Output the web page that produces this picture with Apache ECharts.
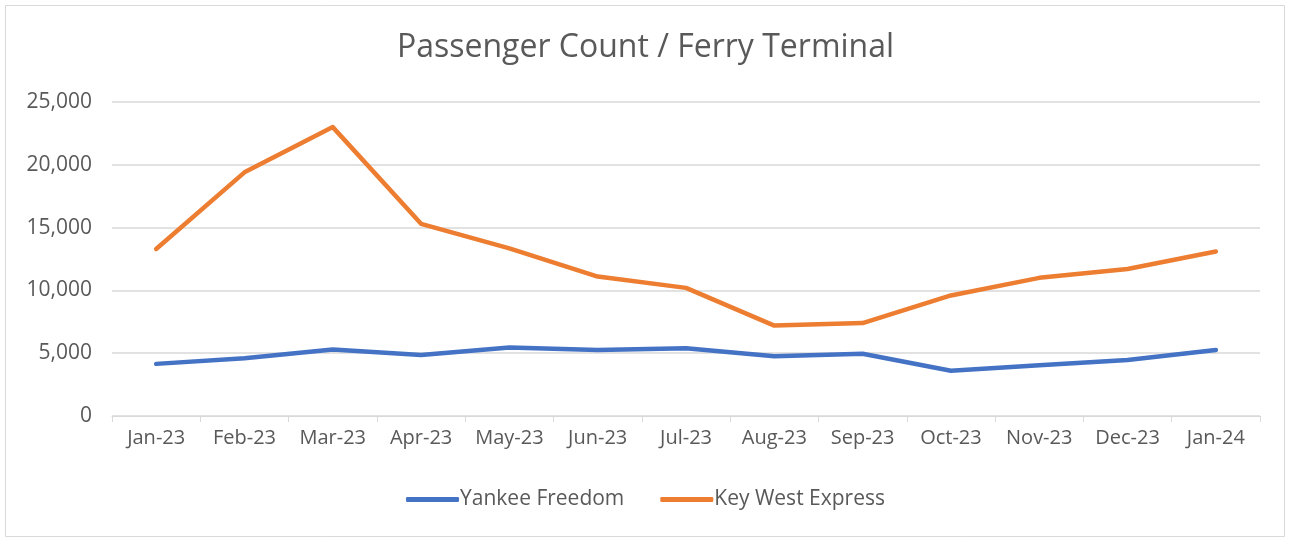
<!DOCTYPE html>
<html><head><meta charset="utf-8">
<script src="https://cdn.jsdelivr.net/npm/echarts@6/dist/echarts.min.js"></script>
<style>html,body{margin:0;padding:0;background:#fff}#c{width:1291px;height:540px}</style>
</head><body><div id="c"></div>
<script>
var categories = ['Jan-23','Feb-23','Mar-23','Apr-23','May-23','Jun-23','Jul-23','Aug-23','Sep-23','Oct-23','Nov-23','Dec-23','Jan-24'];
var yankeeFreedom = [4150, 4600, 5300, 4850, 5450, 5250, 5400, 4750, 4950, 3600, 4050, 4450, 5250];
var keyWestExpress = [13300, 19400, 23000, 15300, 13350, 11100, 10200, 7200, 7400, 9600, 11000, 11700, 13100];
var seriesNames = ['Yankee Freedom', 'Key West Express'];
var chart = echarts.init(document.getElementById('c'), null, {renderer:'canvas'});
var font = '"Open Sans", "Noto Sans", sans-serif';
chart.setOption({
  animation:false,
  backgroundColor:'#fff',
  graphic:[{type:'rect',shape:{x:5.5,y:5.5,width:1279,height:531},style:{fill:'none',stroke:'#d9d9d9',lineWidth:1},silent:true}],
  title:{text:'Passenger Count / Ferry Terminal',left:'center',top:27,textStyle:{fontFamily:font,fontSize:32,fontWeight:'normal',color:'#595959'}},
  grid:{left:112,right:31,top:102,bottom:124,containLabel:false},
  legend:{bottom:25,left:'center',itemWidth:53,itemHeight:5,itemGap:36,icon:'roundRect',
    textStyle:{fontFamily:font,fontSize:21,color:'#595959',padding:[0,0,0,-4]},
    data:seriesNames},
  xAxis:{type:'category',data:categories,boundaryGap:true,
    axisLine:{lineStyle:{color:'#d9d9d9',width:1}},
    axisTick:{show:true,length:6,lineStyle:{color:'#d9d9d9'}},
    axisLabel:{interval:0,hideOverlap:false,fontFamily:font,fontSize:20,color:'#595959',margin:12}},
  yAxis:{type:'value',min:0,max:25000,interval:5000,
    axisLine:{show:false},axisTick:{show:false},
    splitLine:{lineStyle:{color:'#d9d9d9',width:1.5}},
    axisLabel:{fontFamily:font,fontSize:21,color:'#595959',margin:20,
      formatter:function(v){return v.toLocaleString('en-US');}}},
  series:[
    {name:seriesNames[0],type:'line',data:yankeeFreedom,symbol:'none',lineStyle:{color:'#4472C4',width:4.5,cap:'round',join:'round'},itemStyle:{color:'#4472C4'}},
    {name:seriesNames[1],type:'line',data:keyWestExpress,symbol:'none',lineStyle:{color:'#ED7D31',width:4.5,cap:'round',join:'round'},itemStyle:{color:'#ED7D31'}}
  ]
});
</script></body></html>
